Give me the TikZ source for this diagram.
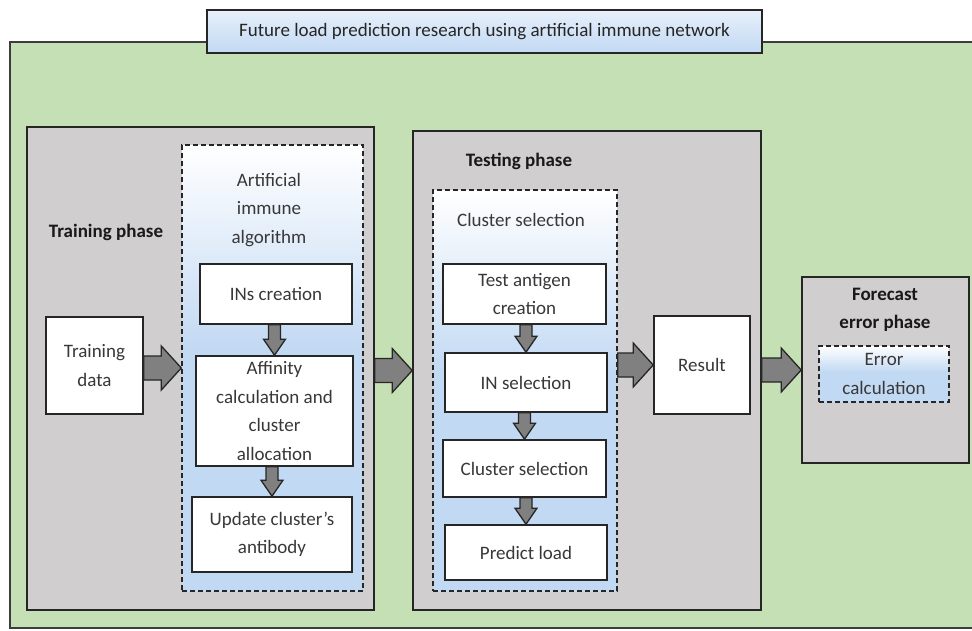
\documentclass[tikz,border=0pt]{standalone}
\usepackage{fontspec}
\setmainfont{Carlito}
\usetikzlibrary{calc}

\definecolor{bggreen}{RGB}{197,224,180}
\definecolor{phasegray}{RGB}{208,206,206}
\definecolor{boxblue}{RGB}{194,217,243}
\definecolor{arrowgray}{RGB}{128,128,128}
\definecolor{edge}{RGB}{38,38,38}
\definecolor{txt}{RGB}{56,56,56}

\pgfdeclareverticalshading{fadeblue}{100bp}{color(0bp)=(boxblue); color(52bp)=(boxblue); color(75bp)=(white); color(100bp)=(white)}

% block arrows, level with (or aligned to) the target node
\newcommand{\harrow}[2]{%
  \filldraw[blockarrow] let \p1=(#1), \p2=(#2) in
    (\x1,\y2+12pt) -- (\x2-20pt,\y2+12pt) -- (\x2-20pt,\y2+22pt) -- (\x2,\y2)
    -- (\x2-20pt,\y2-22pt) -- (\x2-20pt,\y2-12pt) -- (\x1,\y2-12pt) -- cycle;}
\newcommand{\varrow}[2]{%
  \filldraw[blockarrow] let \p1=(#1), \p2=(#2) in
    (\x2-6pt,\y1) -- (\x2-6pt,\y2+16pt) -- (\x2-11pt,\y2+16pt) -- (\x2,\y2)
    -- (\x2+11pt,\y2+16pt) -- (\x2+6pt,\y2+16pt) -- (\x2+6pt,\y1) -- cycle;}

\begin{document}
\begin{tikzpicture}[
      x=1pt, y=-1pt,
      phase/.style={draw=edge, line width=1.6pt, fill=phasegray, inner sep=0pt},
      stepbox/.style={draw=edge, line width=1.6pt, fill=white, text=txt, align=center, inner sep=0pt, font=\fontsize{19}{28.5}\selectfont},
      groupbox/.style={draw=edge, line width=1.4pt, dash pattern=on 5pt off 3pt, shade, shading=fadeblue, inner sep=0pt},
      heading/.style={font=\fontsize{19}{28.5}\selectfont\bfseries, text=black!90, align=center},
      caption/.style={font=\fontsize{19}{28.5}\selectfont, text=txt, align=center},
      blockarrow/.style={draw=edge, fill=arrowgray, line width=1.3pt, line join=miter}
    ]
    \useasboundingbox (0,0) rectangle (972,630);
    \fill[bggreen] (10,42) rectangle (972,628);
    \draw[edge!90, line width=1.6pt] (972,42) -- (10,42) -- (10,628) -- (972,628);

    \node[draw=edge, line width=1.6pt, top color=white!60!boxblue, bottom color=boxblue,
          minimum width=555, minimum height=43, inner sep=0pt, font=\fontsize{19}{22}\selectfont,
          text=black!85] (title) at (484.5,31.5) {Future load prediction research using artificial immune network};

    \node[phase, minimum width=347, minimum height=483] (train) at (200.5,368.5) {};
    \node[phase, minimum width=348, minimum height=479] (test) at (587,370.5) {};
    \node[phase, minimum width=167, minimum height=186] (forecast) at (885.5,370) {};

    \node[heading] (trainlbl) at (106,232) {Training phase};
    \node[heading] (testlbl) at (519,161) {Testing phase};
    \node[heading] (forecastlbl) at (885,310) {Forecast\\error phase};

    \node[groupbox, minimum width=181, minimum height=446] (ais) at (272.5,368) {};
    \node[groupbox, minimum width=184, minimum height=401] (select) at (525,390.5) {};
    \node[groupbox, minimum width=130, minimum height=56, caption] (error) at (884,374) {Error\\calculation};

    \node[caption] (aislbl) at (269,210) {Artificial\\immune\\algorithm};
    \node[caption] (selectlbl) at (521,220) {Cluster selection};

    \node[stepbox, minimum width=97, minimum height=97] (data) at (94.5,365.5) {Training\\data};
    \node[stepbox, minimum width=152, minimum height=60] (ins) at (276,294) {INs creation};
    \node[stepbox, minimum width=157, minimum height=110] (affinity) at (274.5,411) {Affinity\\calculation and\\cluster\\allocation};
    \node[stepbox, minimum width=160, minimum height=75] (update) at (272,534.5) {Update cluster's\\antibody};

    \node[stepbox, minimum width=163, minimum height=60] (antigen) at (524.5,294) {Test antigen\\creation};
    \node[stepbox, minimum width=162, minimum height=59] (insel) at (526,382.5) {IN selection};
    \node[stepbox, minimum width=163, minimum height=57] (clsel) at (524.5,468.5) {Cluster selection};
    \node[stepbox, minimum width=162, minimum height=55] (predict) at (526,552.5) {Predict load};
    \node[stepbox, minimum width=96, minimum height=98] (result) at (702,365) {Result};

    \harrow{data.east}{ais.west}
    \harrow{train.east}{test.west}
    \harrow{select.east}{result.west}
    \harrow{test.east}{forecast.west}

    \varrow{ins.south}{affinity.north}
    \varrow{affinity.south}{update.north}
    \varrow{antigen.south}{insel.north}
    \varrow{insel.south}{clsel.north}
    \varrow{clsel.south}{predict.north}
  \end{tikzpicture}
\end{document}
